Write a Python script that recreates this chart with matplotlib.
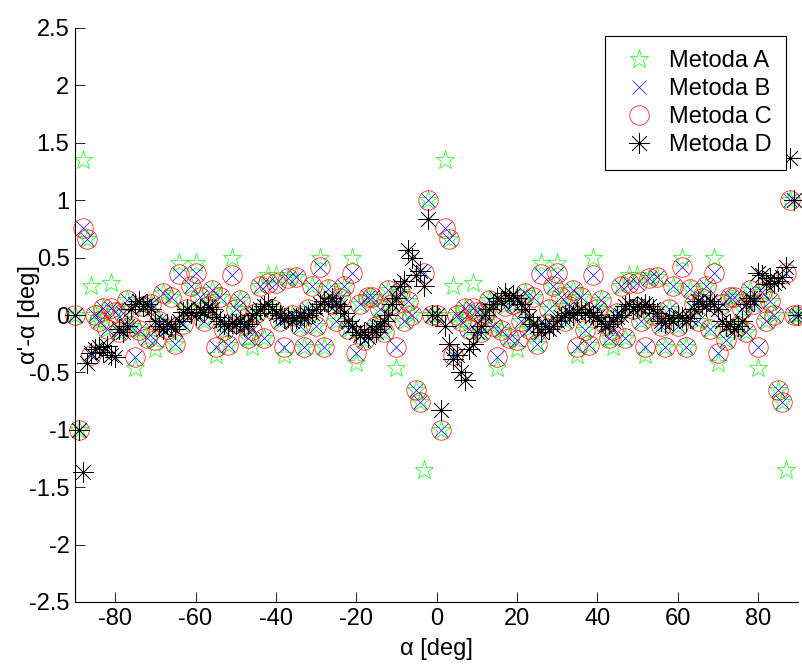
"""
Blad estymacji kata dla czterech metod (styl wykresu jak z MATLABa).
"""
import matplotlib
matplotlib.use("Agg")
import matplotlib.pyplot as plt

plt.rcParams['font.family'] = ['Liberation Sans', 'DejaVu Sans']
plt.rcParams['font.size'] = 17

# ------------------------------------------------------------------
# Dane (kat alfa co 1 stopien, od -90 do 90)
# ------------------------------------------------------------------
alpha = list(range(-90, 91))

metoda_a = [
    0.0, -1.0, 1.35, 0.66, 0.25, 0.0, -0.05, 0.06, -0.12, 0.28,        # -90..-81
    0.03, -0.15, 0.02, 0.13, -0.1, -0.46, -0.13, 0.08, -0.2, 0.1,       # -80..-71
    -0.3, -0.05, 0.19, -0.12, 0.16, -0.25, 0.45, -0.08, 0.05, 0.25,     # -70..-61
    0.45, 0.16, -0.05, 0.08, 0.22, -0.35, 0.16, -0.13, -0.26, 0.5,      # -60..-51
    0.05, 0.13, -0.08, -0.2, -0.28, 0.02, 0.25, -0.2, 0.35, 0.05,       # -50..-41
    0.35, -0.05, -0.35, 0.32, 0.0, 0.33, -0.1, -0.28, 0.05, 0.25,       # -40..-31
    -0.1, 0.5, -0.28, 0.23, 0.1, -0.05, 0.15, 0.25, -0.12, 0.5,         # -30..-21
    -0.42, 0.1, -0.22, 0.16, 0.16, -0.1, 0.05, -0.15, 0.22, 0.1,        # -20..-11
    -0.46, 0.2, -0.05, 0.12, 0.0, -0.65, -0.76, -1.35, 1.0, 0.0,        # -10..-1
    0.0, -1.0, 1.35, 0.66, 0.25, 0.0, -0.05, 0.06, -0.12, 0.28,         # 0..9
    0.03, -0.15, 0.02, 0.13, -0.1, -0.46, -0.13, 0.08, -0.2, 0.1,       # 10..19
    -0.3, -0.05, 0.19, -0.12, 0.16, -0.25, 0.45, -0.08, 0.05, 0.25,     # 20..29
    0.45, 0.16, -0.05, 0.08, 0.22, -0.35, 0.16, -0.13, -0.26, 0.5,      # 30..39
    0.05, 0.13, -0.08, -0.2, -0.28, 0.02, 0.25, -0.2, 0.35, 0.05,       # 40..49
    0.35, -0.05, -0.35, 0.32, 0.0, 0.33, -0.1, -0.28, 0.05, 0.25,       # 50..59
    -0.1, 0.5, -0.28, 0.23, 0.1, -0.05, 0.15, 0.25, -0.12, 0.5,         # 60..69
    -0.42, 0.1, -0.22, 0.16, 0.16, -0.1, 0.05, -0.15, 0.22, 0.1,        # 70..79
    -0.46, 0.2, -0.05, 0.12, 0.0, -0.65, -0.76, -1.35, 1.0, 0.0,        # 80..89
    0.0,                                                                # 90
]

metoda_b = [
    0.0, -1.0, 0.76, 0.66, -0.35, 0.0, -0.05, 0.06, -0.12, 0.06,
    0.03, -0.15, 0.02, 0.13, -0.1, -0.37, -0.13, 0.08, -0.2, 0.1,
    -0.22, -0.05, 0.19, -0.12, 0.16, -0.25, 0.36, -0.08, 0.05, 0.25,
    0.37, 0.16, -0.05, 0.08, 0.22, -0.28, 0.16, -0.13, -0.26, 0.35,
    0.05, 0.13, -0.08, -0.2, -0.13, 0.02, 0.25, -0.2, 0.28, 0.05,
    0.28, -0.05, -0.28, 0.32, 0.0, 0.33, -0.1, -0.28, 0.05, 0.25,
    -0.1, 0.42, -0.28, 0.23, 0.1, -0.05, 0.15, 0.25, -0.12, 0.37,
    -0.33, 0.1, -0.22, 0.16, 0.16, -0.1, 0.05, -0.15, 0.22, 0.1,
    -0.28, 0.2, -0.05, 0.12, 0.0, -0.65, -0.76, 0.37, 1.0, 0.0,
    0.0, -1.0, 0.76, 0.66, -0.35, 0.0, -0.05, 0.06, -0.12, 0.06,
    0.03, -0.15, 0.02, 0.13, -0.1, -0.37, -0.13, 0.08, -0.2, 0.1,
    -0.22, -0.05, 0.19, -0.12, 0.16, -0.25, 0.36, -0.08, 0.05, 0.25,
    0.37, 0.16, -0.05, 0.08, 0.22, -0.28, 0.16, -0.13, -0.26, 0.35,
    0.05, 0.13, -0.08, -0.2, -0.13, 0.02, 0.25, -0.2, 0.28, 0.05,
    0.28, -0.05, -0.28, 0.32, 0.0, 0.33, -0.1, -0.28, 0.05, 0.25,
    -0.1, 0.42, -0.28, 0.23, 0.1, -0.05, 0.15, 0.25, -0.12, 0.37,
    -0.33, 0.1, -0.22, 0.16, 0.16, -0.1, 0.05, -0.15, 0.22, 0.1,
    -0.28, 0.2, -0.05, 0.12, 0.0, -0.65, -0.76, 0.37, 1.0, 0.0,
    0.0,
]

metoda_c = [
    0.0, -1.0, 0.76, 0.66, -0.35, 0.0, -0.05, 0.06, -0.12, 0.06,
    0.03, -0.15, 0.02, 0.13, -0.1, -0.37, -0.13, 0.08, -0.2, 0.1,
    -0.22, -0.05, 0.19, -0.12, 0.16, -0.25, 0.36, -0.08, 0.05, 0.25,
    0.37, 0.16, -0.05, 0.08, 0.22, -0.28, 0.16, -0.13, -0.26, 0.35,
    0.05, 0.13, -0.08, -0.2, -0.13, 0.02, 0.25, -0.2, 0.28, 0.05,
    0.28, -0.05, -0.28, 0.32, 0.0, 0.33, -0.1, -0.28, 0.05, 0.25,
    -0.1, 0.42, -0.28, 0.23, 0.1, -0.05, 0.15, 0.25, -0.12, 0.37,
    -0.33, 0.1, -0.22, 0.16, 0.16, -0.1, 0.05, -0.15, 0.22, 0.1,
    -0.28, 0.2, -0.05, 0.12, 0.0, -0.65, -0.76, 0.37, 1.0, 0.0,
    0.0, -1.0, 0.76, 0.66, -0.35, 0.0, -0.05, 0.06, -0.12, 0.06,
    0.03, -0.15, 0.02, 0.13, -0.1, -0.37, -0.13, 0.08, -0.2, 0.1,
    -0.22, -0.05, 0.19, -0.12, 0.16, -0.25, 0.36, -0.08, 0.05, 0.25,
    0.37, 0.16, -0.05, 0.08, 0.22, -0.28, 0.16, -0.13, -0.26, 0.35,
    0.05, 0.13, -0.08, -0.2, -0.13, 0.02, 0.25, -0.2, 0.28, 0.05,
    0.28, -0.05, -0.28, 0.32, 0.0, 0.33, -0.1, -0.28, 0.05, 0.25,
    -0.1, 0.42, -0.28, 0.23, 0.1, -0.05, 0.15, 0.25, -0.12, 0.37,
    -0.33, 0.1, -0.22, 0.16, 0.16, -0.1, 0.05, -0.15, 0.22, 0.1,
    -0.28, 0.2, -0.05, 0.12, 0.0, -0.65, -0.76, 0.37, 1.0, 0.0,
    0.0,
]

metoda_d = [
    0.0, -1.0, -1.37, -0.42, -0.33, -0.3, -0.28, -0.32, -0.27, -0.35,   # -90..-81
    -0.37, -0.12, -0.15, -0.1, 0.05, 0.1, 0.12, 0.08, 0.1, 0.05,        # -80..-71
    -0.05, -0.1, -0.12, -0.08, -0.1, -0.12, -0.05, 0.03, 0.05, 0.02,    # -70..-61
    0.0, 0.05, 0.03, 0.07, 0.05, -0.02, -0.05, -0.08, -0.1, -0.07,      # -60..-51
    -0.08, -0.05, -0.1, -0.08, 0.0, 0.02, 0.05, 0.08, 0.1, 0.05,        # -50..-41
    0.02, 0.0, -0.03, -0.02, -0.05, -0.03, 0.0, -0.02, 0.0, 0.02,       # -40..-31
    0.05, 0.1, 0.12, 0.1, 0.15, 0.1, 0.08, 0.02, -0.05, -0.1,           # -30..-21
    -0.15, -0.17, -0.15, -0.19, -0.12, -0.15, -0.1, -0.05, 0.0, 0.1,    # -20..-11
    0.15, 0.25, 0.3, 0.57, 0.5, 0.35, 0.38, 0.25, 0.84, 0.0,            # -10..-1
    0.0, -0.83, -0.1, -0.25, -0.38, -0.35, -0.5, -0.57, -0.3, -0.25,    # 0..9
    -0.15, -0.1, 0.0, 0.05, 0.1, 0.15, 0.12, 0.19, 0.15, 0.17,          # 10..19
    0.15, 0.1, 0.05, -0.02, -0.08, -0.1, -0.15, -0.1, -0.12, -0.1,      # 20..29
    -0.05, -0.02, 0.0, 0.02, 0.0, 0.03, 0.05, 0.02, 0.03, 0.0,          # 30..39
    -0.02, -0.05, -0.1, -0.08, -0.05, -0.02, 0.0, 0.08, 0.1, 0.05,      # 40..49
    0.08, 0.07, 0.1, 0.08, 0.05, 0.02, -0.05, -0.07, -0.03, -0.05,      # 50..59
    0.0, -0.02, -0.05, -0.03, 0.05, 0.12, 0.1, 0.08, 0.12, 0.1,         # 60..69
    0.05, -0.05, -0.1, -0.08, -0.12, -0.1, -0.05, 0.1, 0.15, 0.12,      # 70..79
    0.37, 0.35, 0.27, 0.32, 0.28, 0.3, 0.33, 0.42, 1.37, 1.0,           # 80..89
    0.0,                                                                # 90
]

etykiety = ['Metoda A', 'Metoda B', 'Metoda C', 'Metoda D']
yticks = [-2.5, -2, -1.5, -1, -0.5, 0, 0.5, 1, 1.5, 2, 2.5]
yticklabels = ['-2.5', '-2', '-1.5', '-1', '-0.5', '0', '0.5', '1', '1.5', '2', '2.5']
xticks = [-80, -60, -40, -20, 0, 20, 40, 60, 80]

# ------------------------------------------------------------------
# Wykres
# ------------------------------------------------------------------
fig = plt.figure(figsize=(8.02, 6.66), dpi=100)
ax = fig.add_axes([75 / 802, 64 / 666, 723 / 802, 574 / 666])

ax.plot(alpha, metoda_a, linestyle='none', marker='*', markersize=14,
        markerfacecolor='none', markeredgecolor=(0, 1, 0), markeredgewidth=0.5,
        label=etykiety[0], clip_on=False)
ax.plot(alpha, metoda_b, linestyle='none', marker='x', markersize=10,
        color=(0, 0, 1), markeredgewidth=0.5, label=etykiety[1], clip_on=False)
ax.plot(alpha, metoda_c, linestyle='none', marker='o', markersize=14,
        markerfacecolor='none', markeredgecolor=(1, 0, 0), markeredgewidth=0.5,
        label=etykiety[2], clip_on=False)
ax.plot(alpha, metoda_d, linestyle='none', marker=(8, 2, 0), markersize=15,
        color='black', markeredgewidth=0.5, label=etykiety[3], clip_on=False)

ax.set_xlim(-90, 90)
ax.set_ylim(-2.5, 2.5)
ax.set_xticks(xticks)
ax.set_xticklabels([str(t) for t in xticks])
ax.set_yticks(yticks)
ax.set_yticklabels(yticklabels)
ax.tick_params(direction='in', length=7, width=0.6, pad=4)

ax.spines['top'].set_visible(False)
ax.spines['right'].set_visible(False)
for s in ['left', 'bottom']:
    ax.spines[s].set_linewidth(0.8)

ax.set_xlabel('α [deg]')
ax.set_ylabel("α'-α [deg]")
ax.xaxis.set_label_coords(0.5, -0.062)
ax.yaxis.set_label_coords(-0.048, 0.5)

leg = ax.legend(loc='upper right', bbox_to_anchor=(786 / 802, 1 - 36 / 666),
                bbox_transform=fig.transFigure, borderaxespad=0, fancybox=False,
                edgecolor='black', framealpha=1, handlelength=1.6,
                handletextpad=0.5, borderpad=0.6, labelspacing=0.25)
leg.get_frame().set_linewidth(0.8)

plt.savefig('out.png', dpi=100)
plt.close()
